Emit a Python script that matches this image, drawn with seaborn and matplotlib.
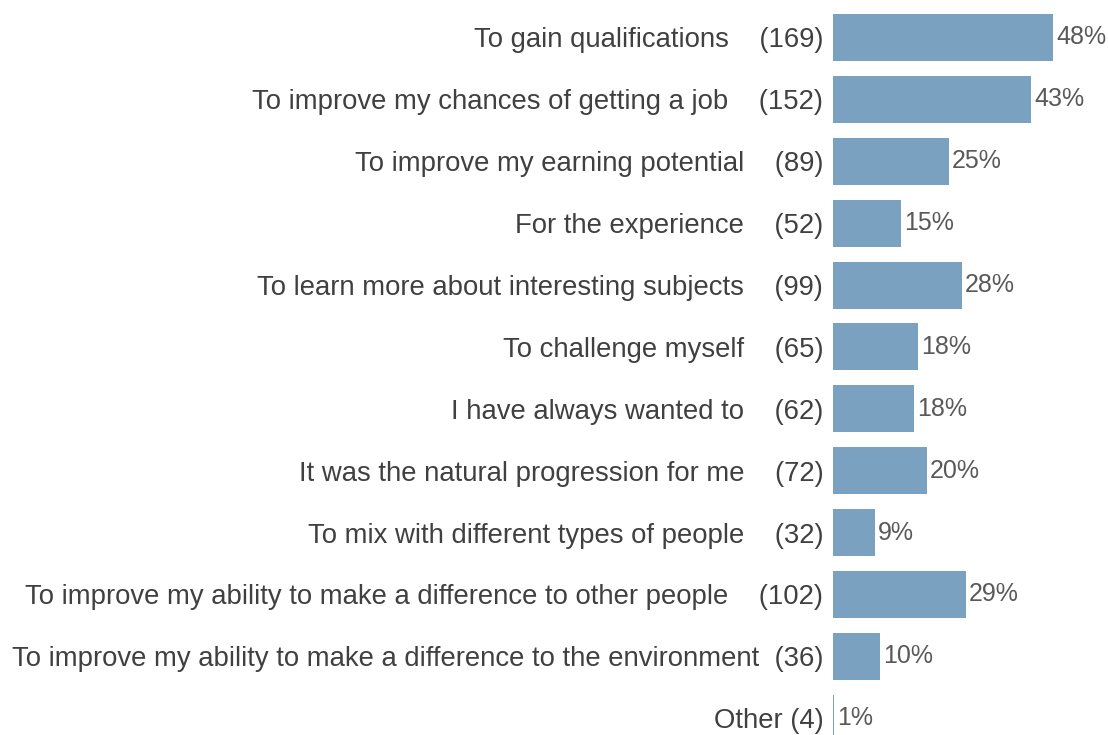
import pandas as pd
import matplotlib.pyplot as plt
import seaborn as sns

# Reasons, response counts and share of respondents
reasons = [
    "To gain qualifications",
    "To improve my chances of getting a job",
    "To improve my earning potential",
    "For the experience",
    "To learn more about interesting subjects",
    "To challenge myself",
    "I have always wanted to",
    "It was the natural progression for me",
    "To mix with different types of people",
    "To improve my ability to make a difference to other people",
    "To improve my ability to make a difference to the environment",
    "Other",
]
counts = [169, 152, 89, 52, 99, 65, 62, 72, 32, 102, 36, 4]
gaps = ["    ", "    ", "    ", "    ", "    ", "    ", "    ", "    ", "    ", "    ", "  ", " "]
share = [48.0, 43.2, 25.3, 14.8, 28.1, 18.5, 17.6, 20.5, 9.1, 29.0, 10.2, 0.25]
share_labels = ["48%", "43%", "25%", "15%", "28%", "18%", "18%", "20%", "9%", "29%", "10%", "1%"]

labels = [f"{r}{g}({c})" for r, g, c in zip(reasons, gaps, counts)]
df = pd.DataFrame({"label": labels, "share": share})

sns.set_style("white")
plt.rcParams["font.family"] = ["Liberation Sans", "DejaVu Sans"]

fig = plt.figure(figsize=(11.08, 7.35), dpi=100)
ax = fig.add_axes([833 / 1108, 0, 275 / 1108, 728.5 / 735])

sns.barplot(data=df, y="label", x="share", orient="h", color="#7BA1C0",
            saturation=1, width=0.76, linewidth=0, ax=ax)

ax.set_xlim(0, 60)
ax.set_ylim(11.27, -0.5)
ax.set_xlabel("")
ax.set_ylabel("")
ax.set_xticks([])
sns.despine(ax=ax, left=True, bottom=True)
ax.tick_params(axis="y", length=0, pad=7, labelsize=19.8, labelcolor="#404040")

for i, (v, t) in enumerate(zip(share, share_labels)):
    ax.text(v + 0.7, i, t, va="center", ha="left", fontsize=18, color="#595959")

fig.savefig("out.png", dpi=100)
